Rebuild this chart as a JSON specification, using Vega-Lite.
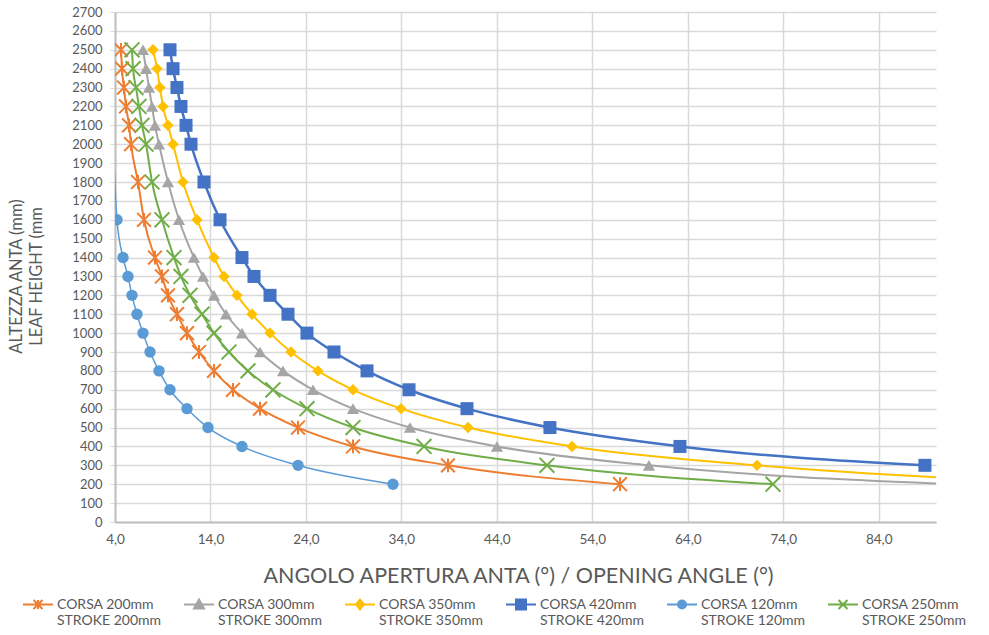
{
 "$schema": "https://vega.github.io/schema/vega-lite/v6.json",
 "width": 821, "height": 510,
 "autosize": {"type": "none"},
 "padding": {"left": 115, "top": 12, "right": 53, "bottom": 113},
 "background": "white",
 "title": {"text": "TOP ROKO OPENING ANGLE", "fontSize": 23, "fontWeight": "bold", "color": "#595959", "font": "Lato", "anchor": "middle", "baseline": "alphabetic", "offset": 0, "dx": -22, "dy": 6},
 "config": {"view": {"stroke": null}, "font": "Lato"},
 "data": {"values": [
  {"c":"200","x":4.63,"y":2500},{"c":"200","x":4.73,"y":2400},{"c":"200","x":4.94,"y":2300},{"c":"200","x":5.15,"y":2200},{"c":"200","x":5.47,"y":2100},{"c":"200","x":5.68,"y":2000},{"c":"200","x":6.41,"y":1800},{"c":"200","x":7.04,"y":1600},{"c":"200","x":8.19,"y":1400},{"c":"200","x":8.92,"y":1300},{"c":"200","x":9.55,"y":1200},{"c":"200","x":10.49,"y":1100},{"c":"200","x":11.54,"y":1000},{"c":"200","x":12.8,"y":900},{"c":"200","x":14.37,"y":800},{"c":"200","x":16.36,"y":700},{"c":"200","x":19.19,"y":600},{"c":"200","x":23.17,"y":500},{"c":"200","x":28.93,"y":400},{"c":"200","x":38.88,"y":300},{"c":"200","x":56.9,"y":200},
  {"c":"300","x":6.93,"y":2500},{"c":"300","x":7.25,"y":2400},{"c":"300","x":7.56,"y":2300},{"c":"300","x":7.88,"y":2200},{"c":"300","x":8.19,"y":2100},{"c":"300","x":8.61,"y":2000},{"c":"300","x":9.55,"y":1800},{"c":"300","x":10.7,"y":1600},{"c":"300","x":12.27,"y":1400},{"c":"300","x":13.22,"y":1300},{"c":"300","x":14.37,"y":1200},{"c":"300","x":15.63,"y":1100},{"c":"300","x":17.3,"y":1000},{"c":"300","x":19.19,"y":900},{"c":"300","x":21.6,"y":800},{"c":"300","x":24.74,"y":700},{"c":"300","x":28.93,"y":600},{"c":"300","x":34.9,"y":500},{"c":"300","x":44.01,"y":400},{"c":"300","x":59.93,"y":300},{"c":"300","x":92.0,"y":200},
  {"c":"350","x":7.98,"y":2500},{"c":"350","x":8.4,"y":2400},{"c":"350","x":8.71,"y":2300},{"c":"350","x":9.03,"y":2200},{"c":"350","x":9.55,"y":2100},{"c":"350","x":10.08,"y":2000},{"c":"350","x":11.12,"y":1800},{"c":"350","x":12.59,"y":1600},{"c":"350","x":14.37,"y":1400},{"c":"350","x":15.42,"y":1300},{"c":"350","x":16.78,"y":1200},{"c":"350","x":18.35,"y":1100},{"c":"350","x":20.24,"y":1000},{"c":"350","x":22.44,"y":900},{"c":"350","x":25.26,"y":800},{"c":"350","x":28.93,"y":700},{"c":"350","x":33.96,"y":600},{"c":"350","x":40.98,"y":500},{"c":"350","x":51.87,"y":400},{"c":"350","x":71.25,"y":300},{"c":"350","x":107.0,"y":200},
  {"c":"420","x":9.76,"y":2500},{"c":"420","x":10.08,"y":2400},{"c":"420","x":10.49,"y":2300},{"c":"420","x":10.91,"y":2200},{"c":"420","x":11.44,"y":2100},{"c":"420","x":11.96,"y":2000},{"c":"420","x":13.32,"y":1800},{"c":"420","x":15.0,"y":1600},{"c":"420","x":17.3,"y":1400},{"c":"420","x":18.56,"y":1300},{"c":"420","x":20.24,"y":1200},{"c":"420","x":22.12,"y":1100},{"c":"420","x":24.11,"y":1000},{"c":"420","x":26.94,"y":900},{"c":"420","x":30.4,"y":800},{"c":"420","x":34.8,"y":700},{"c":"420","x":40.87,"y":600},{"c":"420","x":49.56,"y":500},{"c":"420","x":63.18,"y":400},{"c":"420","x":88.84,"y":300},
  {"c":"120","x":3.3,"y":2700},{"c":"120","x":4.21,"y":1600},{"c":"120","x":4.84,"y":1400},{"c":"120","x":5.36,"y":1300},{"c":"120","x":5.78,"y":1200},{"c":"120","x":6.3,"y":1100},{"c":"120","x":6.93,"y":1000},{"c":"120","x":7.67,"y":900},{"c":"120","x":8.61,"y":800},{"c":"120","x":9.76,"y":700},{"c":"120","x":11.54,"y":600},{"c":"120","x":13.74,"y":500},{"c":"120","x":17.3,"y":400},{"c":"120","x":23.17,"y":300},{"c":"120","x":33.12,"y":200},
  {"c":"250","x":5.78,"y":2500},{"c":"250","x":5.89,"y":2400},{"c":"250","x":6.2,"y":2300},{"c":"250","x":6.51,"y":2200},{"c":"250","x":6.83,"y":2100},{"c":"250","x":7.25,"y":2000},{"c":"250","x":7.88,"y":1800},{"c":"250","x":8.92,"y":1600},{"c":"250","x":10.18,"y":1400},{"c":"250","x":10.91,"y":1300},{"c":"250","x":11.86,"y":1200},{"c":"250","x":13.11,"y":1100},{"c":"250","x":14.37,"y":1000},{"c":"250","x":15.94,"y":900},{"c":"250","x":17.93,"y":800},{"c":"250","x":20.55,"y":700},{"c":"250","x":24.11,"y":600},{"c":"250","x":28.93,"y":500},{"c":"250","x":36.37,"y":400},{"c":"250","x":49.25,"y":300},{"c":"250","x":72.92,"y":200}
 ]},
 "encoding": {
  "x": {"field": "x", "type": "quantitative", "scale": {"domain": [4, 90], "nice": false, "zero": false},
   "axis": {"values": [4,14,24,34,44,54,64,74,84], "labelExpr": "replace(format(datum.value, '.1f'), '.', ',')", "title": "ANGOLO APERTURA ANTA (°) / OPENING ANGLE (°)", "titleFont": "Lato", "titleFontSize": 21.5, "titleFontWeight": "normal", "titleColor": "#595959", "titlePadding": 20, "titleX": 403, "labelFont": "Lato", "labelFontSize": 13.5, "labelColor": "#595959", "labelPadding": 10, "ticks": false, "domainColor": "#BFBFBF", "domainWidth": 2, "gridColor": "#D9D9D9", "gridWidth": 1.5, "grid": true, "labelFlush": false}},
  "y": {"field": "y", "type": "quantitative", "scale": {"domain": [0, 2700], "nice": false},
   "axis": {"values": [0,100,200,300,400,500,600,700,800,900,1000,1100,1200,1300,1400,1500,1600,1700,1800,1900,2000,2100,2200,2300,2400,2500,2600,2700], "format": "d", "title": ["ALTEZZA  ANTA  (mm)", "LEAF  HEIGHT (mm"], "titleFont": "Lato", "titleFontSize": 16.5, "titleFontWeight": "normal", "titleColor": "#595959", "titlePadding": 27, "titleLineHeight": 20, "titleY": 264, "labelFont": "Lato", "labelFontSize": 13, "labelColor": "#595959", "labelPadding": 8, "tickSize": 5, "tickColor": "#D9D9D9", "domainColor": "#BFBFBF", "domainWidth": 2, "gridColor": "#D9D9D9", "gridWidth": 1.5, "labelOverlap": false, "labelFlush": false}}
 },
 "layer": [
  {"transform": [{"filter": "datum.c == '200'"}], "layer": [
   {"mark": {"type": "line", "interpolate": "monotone", "clip": true, "strokeWidth": 2, "color": "#ED7D31"}},
   {"mark": {"type": "point", "shape": "M-1,-1L1,1M-1,1L1,-1M0,-1L0,1", "size": 190, "filled": false, "color": "#ED7D31", "strokeWidth": 2, "opacity": 1, "clip": true}}]},
  {"transform": [{"filter": "datum.c == '300'"}], "layer": [
   {"mark": {"type": "line", "interpolate": "monotone", "clip": true, "strokeWidth": 2, "color": "#A5A5A5"}},
   {"mark": {"type": "point", "shape": "triangle-up", "size": 150, "filled": true, "color": "#A5A5A5", "opacity": 1, "clip": true}}]},
  {"transform": [{"filter": "datum.c == '350'"}], "layer": [
   {"mark": {"type": "line", "interpolate": "monotone", "clip": true, "strokeWidth": 2, "color": "#FFC000"}},
   {"mark": {"type": "point", "shape": "diamond", "size": 130, "filled": true, "color": "#FFC000", "opacity": 1, "clip": true}}]},
  {"transform": [{"filter": "datum.c == '420'"}], "layer": [
   {"mark": {"type": "line", "interpolate": "monotone", "clip": true, "strokeWidth": 2.5, "color": "#4472C4"}},
   {"mark": {"type": "point", "shape": "square", "size": 169, "filled": true, "color": "#4472C4", "opacity": 1, "clip": true}}]},
  {"transform": [{"filter": "datum.c == '120'"}], "layer": [
   {"mark": {"type": "line", "interpolate": "monotone", "clip": true, "strokeWidth": 1.5, "color": "#5B9BD5"}},
   {"mark": {"type": "point", "shape": "circle", "size": 130, "filled": true, "color": "#5B9BD5", "opacity": 1, "clip": true}}]},
  {"transform": [{"filter": "datum.c == '250'"}], "layer": [
   {"mark": {"type": "line", "interpolate": "monotone", "clip": true, "strokeWidth": 2, "color": "#70AD47"}},
   {"mark": {"type": "point", "shape": "M-1,-1L1,1M-1,1L1,-1", "size": 220, "filled": false, "color": "#70AD47", "strokeWidth": 2, "opacity": 1, "clip": true}}]},
  {"transform": [{"filter": "datum.y > 100000"}],
   "mark": {"type": "point", "filled": true, "opacity": 1, "clip": true},
   "encoding": {
    "fill": {"field": "c", "type": "nominal", "scale": {"domain": ["200","300","350","420","120","250"], "range": ["#ED7D31","#A5A5A5","#FFC000","#4472C4","#5B9BD5","#70AD47"]},
     "legend": {"title": null, "orient": "none", "legendX": -84, "legendY": 579, "direction": "horizontal", "columns": 6, "symbolSize": 100, "symbolStrokeWidth": 2, "symbolOpacity": 1, "labelOffset": 12, "columnPadding": 18, "labelFont": "Lato", "labelFontSize": 14, "labelColor": "#595959", "labelLimit": 0, "labelBaseline": "top", "padding": 0,
      "labelExpr": "['CORSA ' + datum.label + 'mm', 'STROKE ' + datum.label + 'mm']"}},
    "stroke": {"field": "c", "type": "nominal", "scale": {"domain": ["200","300","350","420","120","250"], "range": ["#ED7D31","#A5A5A5","#FFC000","#4472C4","#5B9BD5","#70AD47"]},
     "legend": {"title": null, "orient": "none", "legendX": -84, "legendY": 579, "direction": "horizontal", "columns": 6, "symbolSize": 100, "symbolStrokeWidth": 2, "symbolOpacity": 1, "labelOffset": 12, "columnPadding": 18, "labelFont": "Lato", "labelFontSize": 14, "labelColor": "#595959", "labelLimit": 0, "labelBaseline": "top", "padding": 0,
      "labelExpr": "['CORSA ' + datum.label + 'mm', 'STROKE ' + datum.label + 'mm']"}},
    "shape": {"field": "c", "type": "nominal", "scale": {"domain": ["200","300","350","420","120","250"], "range": ["M-3,1.3H3M-0.9,0.4L0.9,2.2M-0.9,2.2L0.9,0.4M0,0.4V2.2", "M-3,1.3H3M0,0.3L1,2.1H-1Z", "M-3,1.3H3M0,0.3L0.8,1.3L0,2.3L-0.8,1.3Z", "M-3,1.3H3M-1,0.3H1V2.3H-1Z", "M-3,1.3H3M-0.8,1.3A0.8,0.8,0,1,0,0.8,1.3A0.8,0.8,0,1,0,-0.8,1.3Z", "M-3,1.3H3M-0.9,0.4L0.9,2.2M-0.9,2.2L0.9,0.4"]},
     "legend": {"title": null, "orient": "none", "legendX": -84, "legendY": 579, "direction": "horizontal", "columns": 6, "symbolSize": 100, "symbolStrokeWidth": 2, "symbolOpacity": 1, "labelOffset": 12, "columnPadding": 18, "labelFont": "Lato", "labelFontSize": 14, "labelColor": "#595959", "labelLimit": 0, "labelBaseline": "top", "padding": 0,
      "labelExpr": "['CORSA ' + datum.label + 'mm', 'STROKE ' + datum.label + 'mm']"}}
   }}
 ]
}
